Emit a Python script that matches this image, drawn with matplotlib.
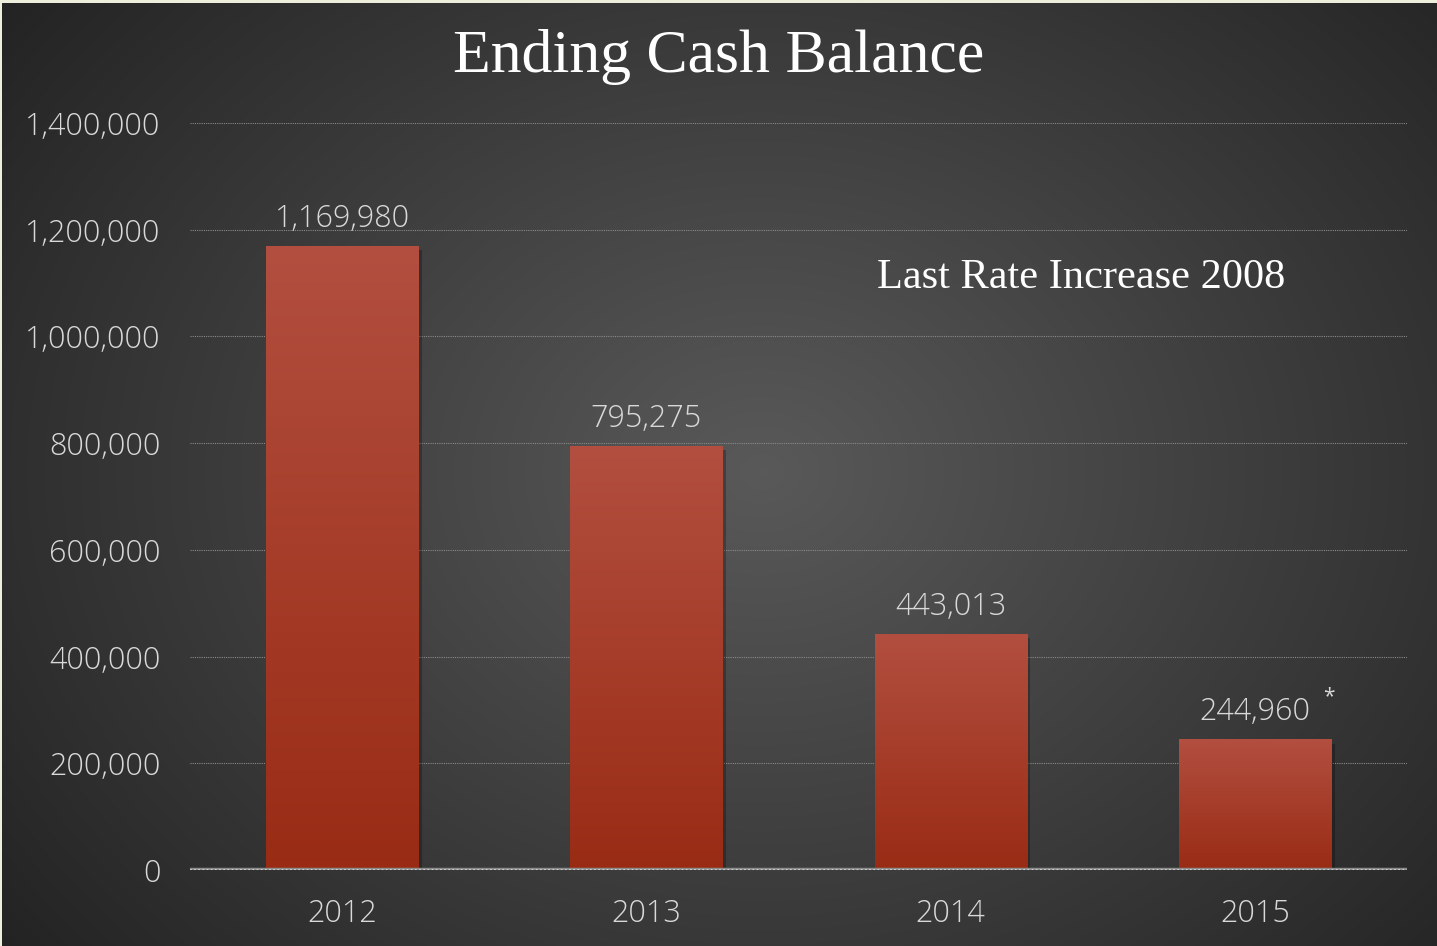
import numpy as np
import matplotlib
matplotlib.use('Agg')
import matplotlib.pyplot as plt
from matplotlib.ticker import FuncFormatter

years = ['2012', '2013', '2014', '2015']
cash = [1169980, 795275, 443013, 244960]
value_labels = ['1,169,980', '795,275', '443,013', '244,960']
yticks = [0, 200000, 400000, 600000, 800000, 1000000, 1200000, 1400000]

label_color = '#d9d9d9'
tick_font = 'Open Sans'

fig = plt.figure(figsize=(14.37, 9.46), dpi=100, facecolor='#eeeedd')

# radial grey background (leaves a thin light edge top and left)
bg = fig.add_axes([0.0014, 0, 0.9986, 0.9968], zorder=-10)
yy, xx = np.mgrid[0:946, 0:1437]
r = np.sqrt(((xx - 760) / 1000.0) ** 2 + ((yy - 470) / 800.0) ** 2)
shade = np.clip(0.35 - 0.22 * r, 0.13, 0.35)
bg.imshow(np.dstack([shade, shade, shade]), extent=[0, 1, 0, 1], aspect='auto')
bg.set_axis_off()

ax = fig.add_axes([0.1322, 0.0803, 0.847, 0.7896])
ax.set_facecolor('none')
x = np.arange(len(years))
bars = ax.bar(x, cash, width=0.5, color='#a83a28', zorder=3)

# vertical gradient on each bar
grad = np.linspace(0, 1, 256).reshape(-1, 1)
top = np.array([0.70, 0.31, 0.25])
bottom = np.array([0.60, 0.17, 0.08])
cols = bottom + (top - bottom) * grad[:, :, None] * np.ones((1, 1, 3))
cols = cols.reshape(256, 1, 3)
for b in bars:
    bx, by = b.get_x(), b.get_y()
    w, h = b.get_width(), b.get_height()
    im = ax.imshow(cols, extent=[bx, bx + w, by, by + h], origin='lower',
                   aspect='auto', zorder=4)
    im.set_clip_path(b)
    # soft shadow
    ax.bar(bx + w / 2 + 0.012, h, width=w, bottom=-8000, color='black',
           alpha=0.25, zorder=2)

ax.set_xlim(-0.5, 3.5)
ax.set_ylim(0, 1400000)
ax.set_yticks(yticks)
ax.yaxis.set_major_formatter(FuncFormatter(lambda v, p: '{:,.0f}'.format(v)))
ax.set_xticks(x)
ax.set_xticklabels(years)
ax.tick_params(axis='both', length=0, colors=label_color, labelsize=22)
ax.tick_params(axis='y', pad=21)
ax.tick_params(axis='x', pad=20)
for lab in ax.get_xticklabels() + ax.get_yticklabels():
    lab.set_fontfamily(tick_font)
    lab.set_fontweight('light')

ax.grid(axis='y', color='#8a8a8a', linestyle=(0, (1, 1)), linewidth=0.8, zorder=1)
ax.axhline(0, color='#8c8c8c', linewidth=3.2, zorder=5)
ax.axhline(0, color='#e0e0e0', linestyle=(0, (1, 1.5)), linewidth=1.2, zorder=6)
for s in ax.spines.values():
    s.set_visible(False)

for xi, v, lab in zip(x, cash, value_labels):
    ax.annotate(lab, (xi, v), xytext=(0, 8), textcoords='offset points',
                ha='center', va='bottom', color=label_color, fontsize=22,
                fontfamily=tick_font, fontweight='light')
ax.annotate('*', (x[-1], cash[-1]), xytext=(53, 23), textcoords='offset points',
            ha='center', va='bottom', color=label_color, fontsize=15,
            fontfamily=tick_font)

fig.text(0.5, 0.940, 'Ending Cash Balance', ha='center', va='center',
         color='white', fontsize=44.5, fontfamily='Liberation Serif')
ax.text(2.43, 1111000, 'Last Rate Increase 2008', ha='center', va='center',
        color='white', fontsize=30.5, fontfamily='Liberation Serif', zorder=6)

fig.savefig('out.png', dpi=100, facecolor=fig.get_facecolor())
